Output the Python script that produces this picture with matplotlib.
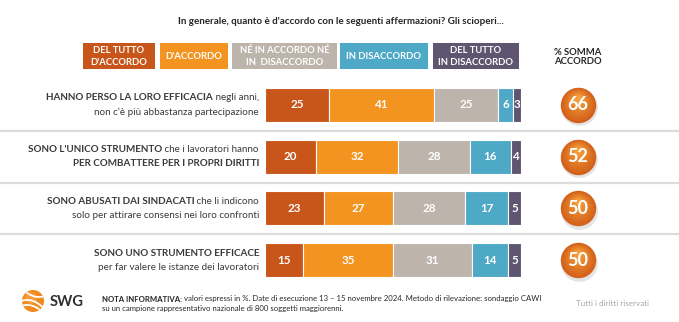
import numpy as np
import matplotlib.pyplot as plt
from matplotlib.patches import Circle, Rectangle
from matplotlib.colors import to_rgb

plt.rcParams['font.family'] = ['Lato', 'DejaVu Sans']

# data
header_labels = ["DEL TUTTO\nD'ACCORDO", "D'ACCORDO", "NÉ IN ACCORDO NÉ\nIN  DISACCORDO",
                 "IN DISACCORDO", "DEL TUTTO\nIN DISACCORDO"]
del_tutto_accordo = [25, 20, 23, 15]
accordo = [41, 32, 27, 35]
ne_accordo_ne_disaccordo = [25, 28, 28, 31]
disaccordo = [6, 16, 17, 14]
del_tutto_disaccordo = [3, 4, 5, 5]
somma_accordo = [66, 52, 50, 50]
statements = [
    [[("HANNO PERSO LA LORO EFFICACIA", True), (" negli anni,", False)],
     [("non c’è più abbastanza partecipazione", False)]],
    [[("SONO L'UNICO STRUMENTO", True), (" che i lavoratori hanno", False)],
     [("PER COMBATTERE PER I PROPRI DIRITTI", True)]],
    [[("SONO ABUSATI DAI SINDACATI", True), (" che li indicono", False)],
     [("solo per attirare consensi nei loro confronti", False)]],
    [[("SONO UNO STRUMENTO EFFICACE", True)],
     [("per far valere le istanze dei lavoratori", False)]],
]
title = "In generale, quanto è d'accordo con le seguenti affermazioni? Gli scioperi..."
note_bold = "NOTA INFORMATIVA:"
note_1 = " valori espressi in %. Date di esecuzione 13 – 15 novembre 2024. Metodo di rilevazione: sondaggio CAWI"
note_2 = "su un campione rappresentativo nazionale di 800 soggetti maggiorenni."

colors = ["#C8561A", "#F39320", "#BDB4AC", "#4EA9C6", "#5E5670"]
text_dark = "#3A3A3A"

W, H = 679, 322
fig = plt.figure(figsize=(W / 100, H / 100), dpi=100)

# overlay in pixel coords (y down)
ov = fig.add_axes([0, 0, 1, 1])
ov.set_xlim(0, W)
ov.set_ylim(H, 0)
ov.axis("off")
ov.set_zorder(0)

# bar axes
bar_left, bar_right, bar_top, bar_bottom = 265, 521, 79, 286
n = len(somma_accordo)
row_h = (bar_bottom - bar_top) / n
ax = fig.add_axes([bar_left / W, 1 - bar_bottom / H, (bar_right - bar_left) / W, (bar_bottom - bar_top) / H])
ax.set_zorder(2)
ax.patch.set_alpha(0)
ax.axis("off")
ax.set_xlim(0, 100)
ax.set_ylim(n - 0.5, -0.5)

series = [del_tutto_accordo, accordo, ne_accordo_ne_disaccordo, disaccordo, del_tutto_disaccordo]
ypos = np.arange(n)
left = np.zeros(n)
for vals, c in zip(series, colors):
    bars = ax.barh(ypos, vals, left=left, height=0.66, color=c, edgecolor="white", linewidth=0.8)
    ax.bar_label(bars, labels=[str(v) for v in vals], label_type="center",
                 color="white", fontsize=8.4, fontweight="bold")
    left += np.array(vals)

# circles with a soft gradient
cx = (578 - bar_left) / (bar_right - bar_left) * 100
px = 1 / row_h  # one pixel in y data units
ax.scatter([cx + 0.4] * n, ypos + 2.5 * px, s=700, color="#D9D9D9", alpha=0.7, clip_on=False, zorder=3, linewidths=0)
dark = np.array(to_rgb("#D2601A"))
light = np.array(to_rgb("#F59E3A"))
layers = 14
for k in range(layers):
    t = k / (layers - 1)
    size = 650 * (1 - 0.85 * t) ** 2 if k else 650
    col = dark * (1 - t) + light * t
    ax.scatter([cx] * n, ypos - 7 * t * px, s=size, color=col, clip_on=False, zorder=4, linewidths=0)
for y, v in zip(ypos, somma_accordo):
    ax.text(cx, y, str(v), ha="center", va="center", color="white", fontsize=13,
            fontweight="bold", zorder=6, clip_on=False)

# separators
for i in range(1, n):
    y = bar_top + i * row_h
    ov.plot([0, W], [y, y], color="#DCDCDC", lw=1.6, solid_capstyle="butt")

renderer = fig.canvas.get_renderer()


def text_width(t):
    bb = t.get_window_extent(renderer=renderer)
    return bb.width


def right_line(x, y, parts, size):
    for s, bold in reversed(parts):
        t = ov.text(x, y, s, ha="right", va="center", fontsize=size, color=text_dark,
                    fontweight="bold" if bold else "normal")
        x -= text_width(t)


def left_line(x, y, parts, size, color):
    for s, bold in parts:
        t = ov.text(x, y, s, ha="left", va="center", fontsize=size, color=color,
                    fontweight="bold" if bold else "normal")
        x += text_width(t)


# statement labels
for i, lines in enumerate(statements):
    yc = bar_top + (i + 0.5) * row_h
    right_line(259, yc - 7, lines[0], 7.15)
    right_line(259, yc + 7, lines[1], 7.15)

# title
ov.text(341, 21, title, ha="center", va="center", fontsize=7.1, fontweight="bold", color="#262626")

# header boxes
boxes = [(83, 155), (160, 228), (232, 337), (340, 428), (433, 519)]
for (x0, x1), lab, c in zip(boxes, header_labels, colors):
    ov.add_patch(Rectangle((x0, 43), x1 - x0, 26, color=c, lw=0))
    ov.text((x0 + x1) / 2, 56.5, lab, ha="center", va="center", fontsize=6.8,
            fontweight="bold", color="white", linespacing=1.35)
ov.text(578, 57, "% SOMMA\nACCORDO", ha="center", va="center", fontsize=6.8,
        fontweight="bold", color="#262626", linespacing=1.1)

# logo
logo = Circle((33, 301), 11, color="#F08A1E", lw=0)
ov.add_patch(logo)
ov.add_patch(Circle((31, 298), 6, color="#F7A84A", lw=0, alpha=0.6))
for off in (-5, 0, 5):
    xs = np.linspace(18, 48, 50)
    ys = 301 + off + 0.35 * (xs - 33) + 0.03 * (xs - 33) ** 2 * np.sign(off + 0.1)
    ln, = ov.plot(xs, ys, color="white", lw=1.3)
    ln.set_clip_path(logo)
ov.text(50, 302, "SWG", ha="left", va="center", fontsize=10.5, fontweight="bold", color="#2E2E2E")

# footer notes
left_line(102, 299, [(note_bold, True), (note_1, False)], 5.6, "#262626")
left_line(102, 309, [(note_2, False)], 5.6, "#262626")
ov.text(613, 304, "Tutti i diritti riservati", ha="center", va="center", fontsize=5.8, color="#A6A6A6")

fig.savefig("out.png", dpi=100)
